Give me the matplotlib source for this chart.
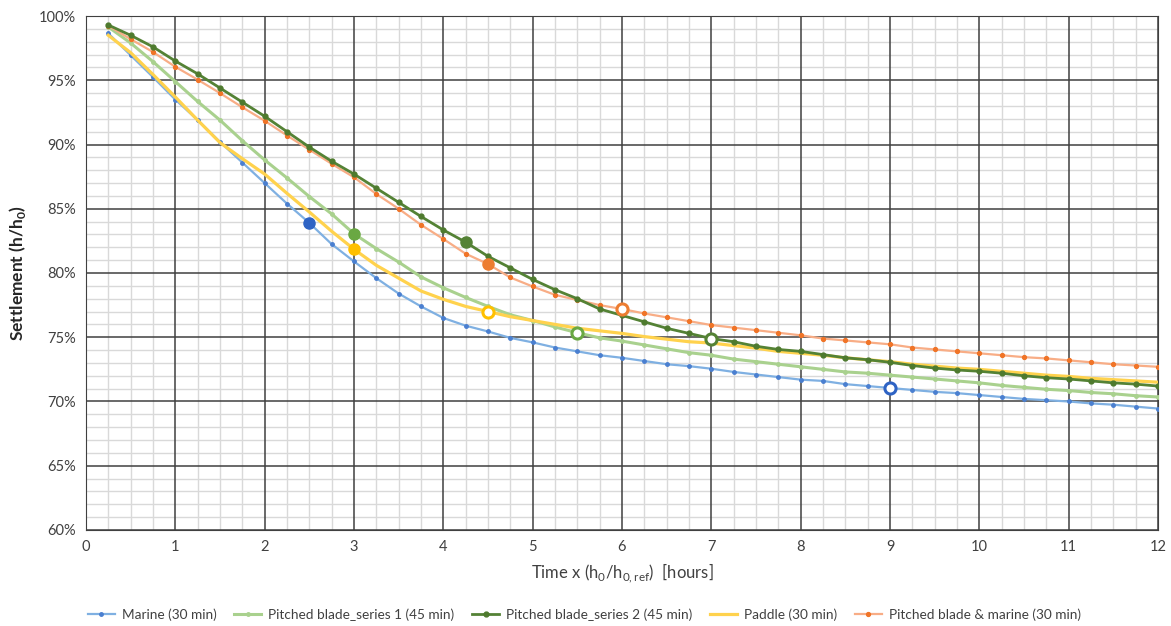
import matplotlib.pyplot as plt
from matplotlib.ticker import MultipleLocator, PercentFormatter
import numpy as np

# time axis, one reading every quarter hour
hours = np.arange(1, 49) * 0.25

marine = [98.65, 96.95, 95.25, 93.5, 91.9, 90.2, 88.6, 87.0, 85.4, 83.9, 82.25, 80.9,
          79.6, 78.4, 77.4, 76.5, 75.9, 75.45, 74.95, 74.6, 74.2, 73.9, 73.6, 73.4,
          73.15, 72.9, 72.75, 72.55, 72.3, 72.1, 71.9, 71.7, 71.6, 71.35, 71.2, 71.05,
          70.9, 70.75, 70.65, 70.5, 70.35, 70.2, 70.1, 70.0, 69.85, 69.75, 69.6, 69.45]
pitched_s1 = [99.15, 97.9, 96.45, 94.9, 93.35, 91.9, 90.3, 88.8, 87.4, 85.95, 84.6, 83.05,
              81.9, 80.85, 79.7, 78.85, 78.1, 77.4, 76.75, 76.3, 75.8, 75.35, 74.95, 74.7,
              74.4, 74.1, 73.8, 73.6, 73.3, 73.1, 72.9, 72.7, 72.5, 72.3, 72.2, 72.05,
              71.9, 71.75, 71.6, 71.45, 71.25, 71.1, 70.95, 70.85, 70.7, 70.6, 70.45, 70.35]
pitched_s2 = [99.3, 98.5, 97.6, 96.5, 95.5, 94.4, 93.3, 92.2, 91.0, 89.8, 88.7, 87.7,
              86.6, 85.5, 84.4, 83.35, 82.4, 81.3, 80.4, 79.5, 78.7, 78.0, 77.2, 76.7,
              76.2, 75.7, 75.3, 74.9, 74.65, 74.3, 74.05, 73.9, 73.65, 73.4, 73.25, 73.05,
              72.8, 72.6, 72.45, 72.35, 72.2, 72.0, 71.85, 71.75, 71.6, 71.45, 71.35, 71.2]
paddle = [98.5, 97.15, 95.45, 93.7, 91.9, 90.15, 88.9, 87.7, 86.2, 84.75, 83.25, 81.85,
          80.6, 79.6, 78.6, 77.95, 77.4, 77.0, 76.6, 76.3, 76.0, 75.7, 75.5, 75.3,
          75.05, 74.85, 74.65, 74.55, 74.35, 74.15, 73.9, 73.75, 73.6, 73.4, 73.25, 73.1,
          72.9, 72.75, 72.6, 72.5, 72.35, 72.2, 72.05, 71.95, 71.8, 71.7, 71.6, 71.5]
pitched_marine = [99.25, 98.2, 97.2, 96.05, 95.05, 94.0, 92.9, 91.85, 90.7, 89.6, 88.5, 87.45,
                  86.15, 85.0, 83.75, 82.65, 81.5, 80.7, 79.65, 78.95, 78.3, 77.9, 77.5, 77.2,
                  76.85, 76.55, 76.25, 75.95, 75.75, 75.55, 75.35, 75.15, 74.9, 74.75, 74.6, 74.45,
                  74.2, 74.05, 73.9, 73.75, 73.6, 73.45, 73.35, 73.2, 73.05, 72.9, 72.8, 72.7]

labels = ['Marine (30 min)', 'Pitched blade_series 1 (45 min)', 'Pitched blade_series 2 (45 min)',
          'Paddle (30 min)', 'Pitched blade & marine (30 min)']

# highlighted points: (x, y) filled and open
filled_pts = [(2.5, 83.9), (3.0, 83.05), (4.25, 82.4), (3.0, 81.85), (4.5, 80.7)]
open_pts = [(9.0, 71.05), (5.5, 75.35), (7.0, 74.9), (4.5, 77.0), (6.0, 77.2)]

plt.rcParams['font.family'] = ['Lato', 'DejaVu Sans']
plt.rcParams['mathtext.fontset'] = 'custom'
plt.rcParams['mathtext.rm'] = 'Lato'
plt.rcParams['mathtext.bf'] = 'Lato:bold'

fig = plt.figure(figsize=(11.71, 6.26), dpi=100)
ax = fig.add_axes([0.0734, 0.1534, 0.9155, 0.821])

ax.plot(hours, marine, color='#7fb0e2', lw=1.6, marker='o', ms=2.5,
        mfc='#4a7fd0', mec='#4a7fd0', label=labels[0], zorder=3)
ax.plot(hours, pitched_s1, color='#a9d18e', lw=2.2, marker='o', ms=2.5,
        mfc='#a9d18e', mec='#a9d18e', label=labels[1], zorder=3)
ax.plot(hours, pitched_s2, color='#548235', lw=2.0, marker='o', ms=3.5,
        mfc='#4e7a2e', mec='#4e7a2e', label=labels[2], zorder=4)
ax.plot(hours, paddle, color='#ffd24d', lw=2.3, label=labels[3], zorder=3)
ax.plot(hours, pitched_marine, color='#f8ad86', lw=1.6, marker='o', ms=2.8,
        mfc='#f07427', mec='#f07427', label=labels[4], zorder=3)

filled_colors = ['#2e63c4', '#6aa843', '#548235', '#ffc000', '#ed7d31']
open_colors = ['#2e63c4', '#6aa843', '#548235', '#ffc000', '#ed7d31']
for (x, y), c in zip(filled_pts, filled_colors):
    ax.plot(x, y, 'o', ms=8, mfc=c, mec=c, zorder=5)
for (x, y), c in zip(open_pts, open_colors):
    ax.plot(x, y, 'o', ms=8, mfc='white', mec=c, mew=2.2, zorder=5)

ax.set_xlim(0, 12)
ax.set_ylim(60, 100)
ax.xaxis.set_major_locator(MultipleLocator(1))
ax.xaxis.set_minor_locator(MultipleLocator(0.25))
ax.yaxis.set_major_locator(MultipleLocator(5))
ax.yaxis.set_minor_locator(MultipleLocator(1))
ax.yaxis.set_major_formatter(PercentFormatter(decimals=0))
ax.grid(which='minor', color='#d9d9d9', lw=1.0)
ax.set_axisbelow(True)
# major grid drawn separately so the light minor lines don't cut through it
for xv in range(0, 13):
    ax.axvline(xv, color='#404040', lw=1.1, zorder=1)
for yv in range(60, 101, 5):
    ax.axhline(yv, color='#404040', lw=1.1, zorder=1)
ax.tick_params(which='both', length=0, labelsize=10.5, colors='#404040', pad=7)
for s in ax.spines.values():
    s.set_color('#404040')

ax.set_xlabel(r'Time x (h$_0$/h$_{\mathrm{0,ref}}$)  [hours]', fontsize=12, color='#404040', labelpad=6)
ax.set_ylabel(r'Settlement (h/h$_\mathbf{0}$)', fontsize=12.5, fontweight='bold', color='#262626', labelpad=8)

fig.legend(loc='lower center', bbox_to_anchor=(0.499, -0.012), ncol=5, frameon=False,
           fontsize=9.8, handlelength=2.0, handletextpad=0.5, columnspacing=1.3,
           labelcolor='#404040')

plt.savefig('out.png')
